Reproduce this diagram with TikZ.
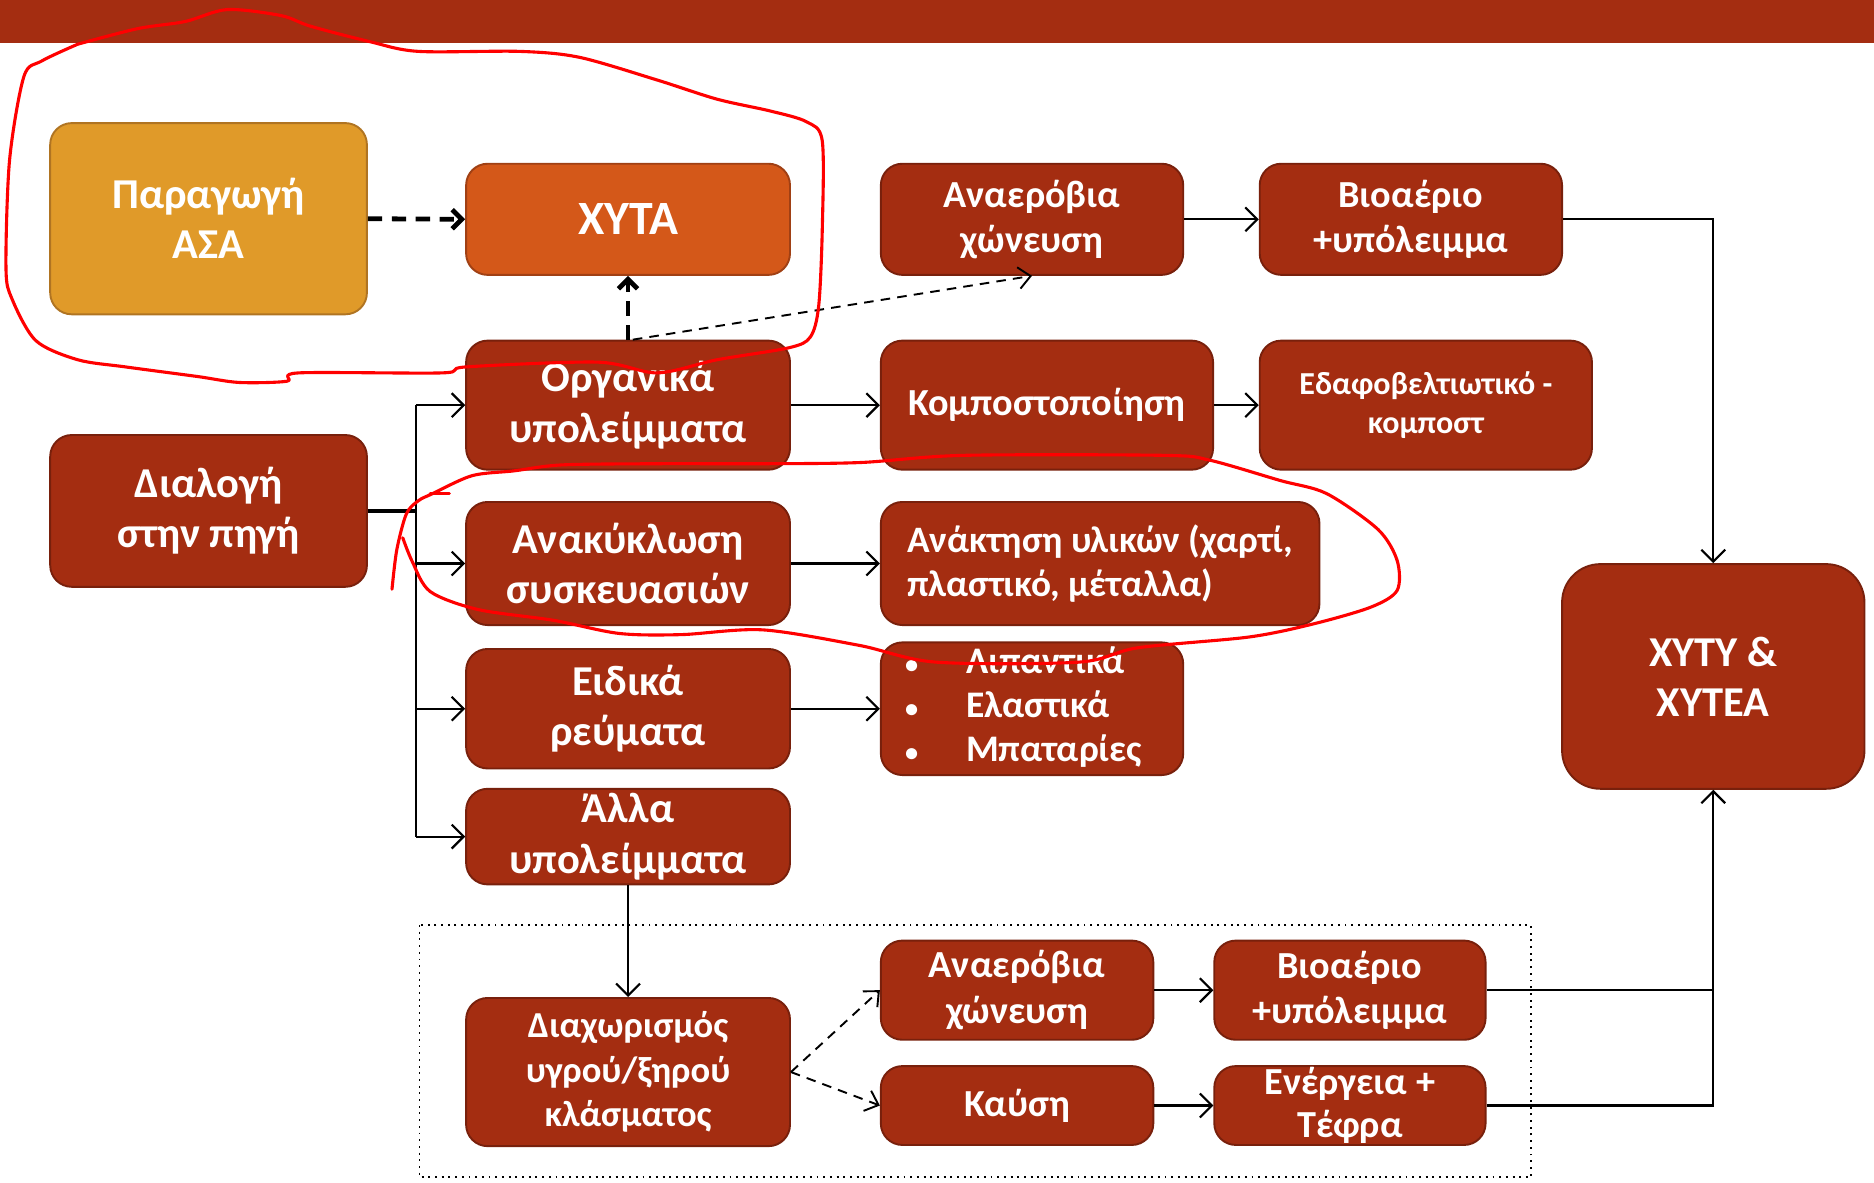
\documentclass[tikz,border=0pt]{standalone}
\usepackage{fontspec}
\setmainfont{Carlito}
\usetikzlibrary{arrows.meta}
\definecolor{rust}{RGB}{164,45,17}
\definecolor{rustd}{RGB}{120,32,12}
\definecolor{gold}{RGB}{224,154,41}
\definecolor{goldd}{RGB}{176,116,34}
\definecolor{orng}{RGB}{212,88,25}
\definecolor{orngd}{RGB}{160,64,20}
\newcommand{\bulx}{{\fontsize{11}{11}\selectfont •}}
\begin{document}
\begin{tikzpicture}[x=0.5pt,y=-0.5pt,
  box/.style={draw=rustd, fill=rust, line width=0.8pt, rounded corners=9pt, text=white,
    font=\bfseries\fontsize{16}{19}\selectfont, align=center, inner sep=0pt},
  bigtext/.style={font=\bfseries\fontsize{17.8}{21}\selectfont},
  arr/.style={-{Straight Barb[length=5pt,width=10pt]}, line width=0.9pt},
  dasharr/.style={-{Straight Barb[length=4pt,width=8pt]}, line width=2pt, dash pattern=on 6pt off 4pt},
  thindash/.style={-{Straight Barb[length=5pt,width=9pt]}, line width=0.8pt, dash pattern=on 4pt off 3pt},
  redline/.style={red, line width=1.3pt, line join=round, line cap=round}
]
\useasboundingbox (0,0) rectangle (1568,989);
\fill[rust] (0,0) rectangle (1568,36);

% nodes
\node[box, bigtext, fill=gold, draw=goldd, minimum width=132.5pt, minimum height=80pt] (para) at (174.5,183) {Παραγωγή\\ΑΣΑ};
\node[box, font=\bfseries\fontsize{20}{24}\selectfont, fill=orng, draw=orngd, minimum width=135.5pt, minimum height=46.5pt] (xyta) at (525.5,183.5) {ΧΥΤΑ};
\node[box, minimum width=126.5pt, minimum height=46.5pt] (ana1) at (863.5,183.5) {\raisebox{0pt}[\height][\depth]{}Αναερόβια\\χώνευση};
\node[box, minimum width=126.5pt, minimum height=46.5pt] (bio1) at (1180.5,183.5) {Βιοαέριο\\+υπόλειμμα};
\node[box, bigtext, minimum width=135.5pt, minimum height=54pt] (org) at (525.5,339) {Οργανικά\\υπολείμματα};
\node[box, minimum width=139pt, minimum height=54pt] (komp) at (876,339) {Κομποστοποίηση};
\node[box, minimum width=139pt, minimum height=54pt, font=\bfseries\fontsize{13.4}{16}\selectfont] (edaf) at (1193,339) {Εδαφοβελτιωτικό -\\κομποστ};
\node[box, bigtext, minimum width=132.5pt, minimum height=63.5pt] (dial) at (174.5,427.5) {Διαλογή\\στην πηγή};
\node[box, bigtext, minimum width=135.5pt, minimum height=51.5pt] (anak) at (525.5,471.5) {Ανακύκλωση\\συσκευασιών};
\node[box, minimum width=183.5pt, minimum height=51.5pt, align=left, font=\bfseries\fontsize{15.6}{18.5}\selectfont] (anakt) at (920.5,471.5) {Ανάκτηση υλικών (χαρτί,\\πλαστικό, μέταλλα)};
\node[box, bigtext, minimum width=135.5pt, minimum height=50pt] (eid) at (525.5,593) {Ειδικά\\ρεύματα};
\node[box, minimum width=126.5pt, minimum height=50pt, font=\bfseries\fontsize{15.7}{18.5}\selectfont] (bul) at (863.5,593)
  {\begin{tabular}{@{}l@{\hspace{20pt}}l@{}}\bulx&Λιπαντικά\\\bulx&Ελαστικά\\\bulx&Μπαταρίες\end{tabular}\hspace{7pt}};
\node[box, bigtext, minimum width=135.5pt, minimum height=40pt] (alla) at (525.5,700) {Άλλα\\υπολείμματα};
\node[box, bigtext, rounded corners=16pt, minimum width=126.5pt, minimum height=94pt] (xyty) at (1433.5,566) {ΧΥΤΥ \&\\ΧΥΤΕΑ};
\draw[line width=0.8pt, dotted] (351,774) rectangle (1281,985);
\node[box, minimum width=135.5pt, minimum height=62pt, font=\bfseries\fontsize{15.3}{18.7}\selectfont] (diax) at (525.5,897) {Διαχωρισμός\\υγρού/ξηρού\\κλάσματος};
\node[box, minimum width=114pt, minimum height=41.5pt] (ana2) at (851,828.5) {Αναερόβια\\χώνευση};
\node[box, minimum width=114pt, minimum height=33pt] (kaus) at (851,925) {Καύση};
\node[box, minimum width=113.5pt, minimum height=41.5pt] (bio2) at (1129.5,828.5) {Βιοαέριο\\+υπόλειμμα};
\node[box, minimum width=113.5pt, minimum height=33pt, font=\bfseries\fontsize{16}{18}\selectfont] (ener) at (1129.5,925) {Ενέργεια +\\Τέφρα};

% connectors
\draw[dasharr] (para.east) -- (xyta.west);
\draw[dasharr] (org.north) -- (xyta.south);
\draw[thindash] ([xshift=2pt]org.north) -- (ana1.south);
\draw[arr] (ana1) -- (bio1);
\draw[arr] (bio1.east) -| (xyty.north);
\coordinate (t0) at (348,427.5);
\coordinate (t1) at (348,339);
\coordinate (t2) at (348,471.5);
\coordinate (t3) at (348,593);
\coordinate (t4) at (348,700);
\draw[line width=1.5pt] (dial.east) -- (t0);
\draw[line width=0.9pt] (t1) -- (t4);
\draw[arr] (t1) -- (org.west);
\draw[arr] (t2) -- (anak.west);
\draw[arr] (t3) -- (eid.west);
\draw[arr] (t4) -- (alla.west);
\draw[arr] (org) -- (komp);
\draw[arr] (komp) -- (edaf);
\draw[arr] (anak) -- (anakt);
\draw[arr] (eid) -- (bul);
\draw[arr] (alla.south) -- (diax.north);
\draw[thindash] (diax.east) -- (ana2.west);
\draw[thindash] (diax.east) -- (kaus.west);
\draw[arr] (ana2) -- (bio2);
\draw[arr] (kaus) -- (ener);
\draw[line width=0.9pt] (bio2.east) -- (bio2.east -| xyty.south);
\draw[arr] (ener.east) -| (xyty.south);

% red hand-drawn loops
\draw[redline] plot[smooth, tension=0.5] coordinates {
 (65,37) (115,24) (155,18) (190,8) (235,13) (260,22) (310,35) (350,43) (435,43) (485,48)
 (550,67) (600,83) (645,93) (675,102) (688,118) (688,192) (685,256) (678,282) (660,291)
 (600,301) (550,312) (500,303) (390,307) (370,312) (250,312) (240,319) (200,320) (165,315)
 (105,307) (65,301) (30,285) (10,250) (5,224) (8,134) (20,64) (35,51) (65,37)};
\draw[redline] plot[smooth, tension=0.5] coordinates {
 (328,493) (332,460) (340,430) (350,419) (362,413) (395,398) (430,394) (470,389) (550,388)
 (640,388) (720,387) (806,381) (974,381) (1012,385) (1071,402) (1110,413) (1153,443)
 (1169,469) (1169,494) (1147,508) (1099,522) (1045,533) (952,542) (903,554) (783,554)
 (719,540) (638,527) (570,531) (518,530) (463,519) (400,510) (360,495) (345,470) (337,450)};
\draw[redline] (360,413) -- (376,413);
\end{tikzpicture}
\end{document}
